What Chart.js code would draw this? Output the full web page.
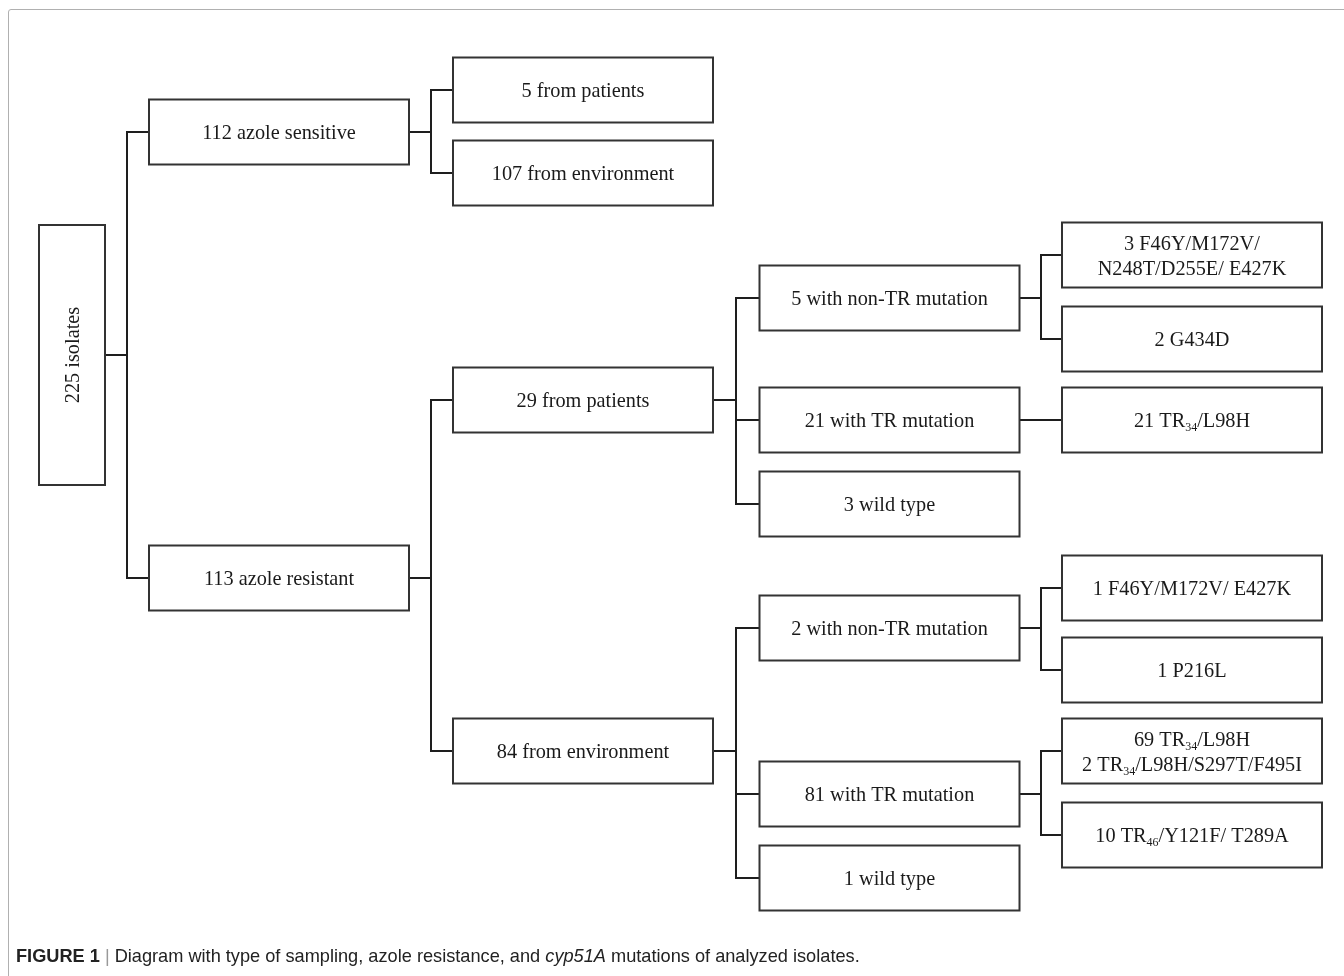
<!DOCTYPE html>
<html>
<head>
<meta charset="utf-8">
<script src="https://cdn.jsdelivr.net/npm/chart.js@4.4.1/dist/chart.umd.min.js"></script>
<style>
  html, body { margin: 0; padding: 0; background: #fff; }
  #wrap { position: relative; width: 1344px; height: 976px; overflow: hidden; }
  #frame { position: absolute; left: 8px; top: 9px; width: 1400px; height: 1000px;
           border: 1.5px solid #b0b0b0; border-radius: 3px; }
  #box { position: absolute; left: 0; top: 0; width: 1344px; height: 976px; }
  #caption { position: absolute; left: 16px; top: 946px; font-family: 'Liberation Sans', Arial, sans-serif;
             font-size: 18.2px; color: #222; white-space: nowrap; }
  #caption .sep { color: #999; font-weight: normal; margin: 0 5px; }
</style>
</head>
<body>
<div id="wrap">
  <div id="frame"></div>
  <div id="box"><canvas id="treeChart"></canvas></div>
  <div id="caption"><b>FIGURE 1</b><span class="sep">|</span>Diagram with type of sampling, azole resistance, and <i>cyp51A</i> mutations of analyzed isolates.</div>
</div>
<script>
// node texts ("_34" = subscript), parent index, vertical position of each node
const nodeLabels = [
    '225 isolates',
    '112 azole sensitive',
    '113 azole resistant',
    '5 from patients',
    '107 from environment',
    '29 from patients',
    '84 from environment',
    '5 with non-TR mutation',
    '21 with TR mutation',
    '3 wild type',
    '2 with non-TR mutation',
    '81 with TR mutation',
    '1 wild type',
    ['3 F46Y/M172V/', 'N248T/D255E/ E427K'],
    '2 G434D',
    '21 TR_34/L98H',
    '1 F46Y/M172V/ E427K',
    '1 P216L',
    ['69 TR_34/L98H', '2 TR_34/L98H/S297T/F495I'],
    '10 TR_46/Y121F/ T289A'
];
const nodeParent = [-1, 0, 0, 1, 1, 2, 2, 5, 5, 5, 6, 6, 6, 7, 7, 8, 10, 10, 11, 11];
const nodeRow = [355, 132, 578, 90, 173, 400, 751, 298, 420, 504, 628, 794, 878, 255, 339, 420, 588, 670, 751, 835];

// layout per tree level
const levelX = [72, 279, 583, 889.5, 1192];
const levelW = [66, 260, 260, 260, 260];
const levelH = [260, 65, 65, 65, 65];

function levelOf(i) {
    let d = 0;
    while (nodeParent[i] >= 0) { i = nodeParent[i]; d++; }
    return d;
}
const nodeLevel = nodeLabels.map((_, i) => levelOf(i));

const serif = '"Liberation Serif", "Times New Roman", serif';

function drawRich(ctx, text, cx, baseY) {
    const parts = text.split(/_(\d+)/);
    let total = 0;
    const widths = parts.map((p, k) => {
        ctx.font = (k % 2 ? '12px ' : '20.3px ') + serif;
        const w = ctx.measureText(p).width;
        total += w;
        return w;
    });
    let x = cx - total / 2;
    parts.forEach((p, k) => {
        ctx.font = (k % 2 ? '12px ' : '20.3px ') + serif;
        ctx.fillText(p, x, baseY + (k % 2 ? 4 : 0));
        x += widths[k];
    });
}

const treePlugin = {
    id: 'tree',
    afterDatasetsDraw(chart) {
        const ctx = chart.ctx;
        const xs = chart.scales.x, ys = chart.scales.y;
        const pts = chart.getDatasetMeta(0).data;
        const edge = i => {
            const lv = nodeLevel[i];
            const cx = levelX[lv], cy = nodeRow[i];
            return {
                l: xs.getPixelForValue(cx - levelW[lv] / 2),
                r: xs.getPixelForValue(cx + levelW[lv] / 2),
                t: ys.getPixelForValue(cy - levelH[lv] / 2),
                b: ys.getPixelForValue(cy + levelH[lv] / 2),
                x: pts[i].x, y: pts[i].y
            };
        };
        ctx.save();

        // connectors
        ctx.strokeStyle = '#1e1e1e';
        ctx.lineWidth = 2;
        ctx.lineCap = 'square';
        nodeLabels.forEach((_, p) => {
            const kids = nodeParent.map((q, i) => q === p ? i : -1).filter(i => i >= 0);
            if (!kids.length) return;
            const pe = edge(p);
            const ke = kids.map(edge);
            const jx = Math.round((pe.r + ke[0].l) / 2);
            const ysAll = ke.map(e => e.y).concat([pe.y]);
            ctx.beginPath();
            ctx.moveTo(pe.r, pe.y);
            ctx.lineTo(jx, pe.y);
            ctx.moveTo(jx, Math.min(...ysAll));
            ctx.lineTo(jx, Math.max(...ysAll));
            ke.forEach(e => { ctx.moveTo(jx, e.y); ctx.lineTo(e.l, e.y); });
            ctx.stroke();
        });

        // boxes and texts
        ctx.lineCap = 'butt';
        nodeLabels.forEach((lab, i) => {
            const e = edge(i);
            ctx.fillStyle = '#fff';
            ctx.fillRect(e.l, e.t, e.r - e.l, e.b - e.t);
            ctx.strokeStyle = '#333';
            ctx.lineWidth = 2;
            ctx.strokeRect(e.l, e.t, e.r - e.l, e.b - e.t);
            ctx.fillStyle = '#1a1a1a';
            ctx.textBaseline = 'alphabetic';
            ctx.textAlign = 'left';
            const lines = Array.isArray(lab) ? lab : [lab];
            if (nodeLevel[i] === 0) {
                ctx.save();
                ctx.translate(e.x, e.y);
                ctx.rotate(-Math.PI / 2);
                drawRich(ctx, lines[0], 0, 7);
                ctx.restore();
            } else {
                const gap = 25;
                const y0 = e.y + 7 - gap * (lines.length - 1) / 2;
                lines.forEach((t, k) => drawRich(ctx, t, e.x, y0 + k * gap));
            }
        });
        ctx.restore();
    }
};

document.addEventListener('DOMContentLoaded', function() {
    const ctx = document.getElementById('treeChart').getContext('2d');
    new Chart(ctx, {
        type: 'scatter',
        data: {
            labels: nodeLabels,
            datasets: [{
                data: nodeLabels.map((_, i) => ({ x: levelX[nodeLevel[i]], y: nodeRow[i] })),
                pointRadius: 0,
                pointHoverRadius: 0
            }]
        },
        options: {
            responsive: true,
            maintainAspectRatio: false,
            animation: false,
            events: [],
            layout: { padding: 0 },
            scales: {
                x: { type: 'linear', min: 0, max: 1344, display: false },
                y: { type: 'linear', min: 0, max: 976, reverse: true, display: false }
            },
            plugins: {
                legend: { display: false },
                tooltip: { enabled: false }
            }
        },
        plugins: [treePlugin]
    });
});
</script>
</body>
</html>
